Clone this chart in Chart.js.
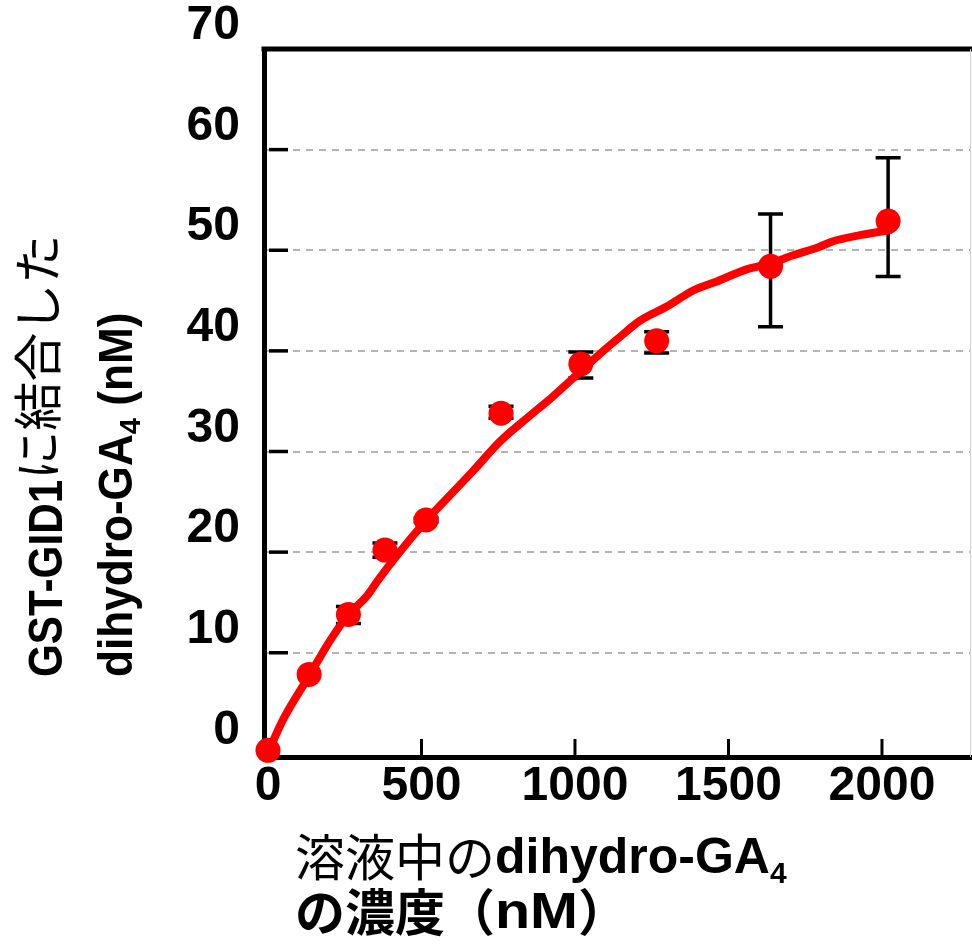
<!DOCTYPE html>
<html>
<head>
<meta charset="utf-8">
<script src="https://cdn.jsdelivr.net/npm/chart.js@4.4.0/dist/chart.umd.min.js"></script>
<style>
  html, body { margin: 0; padding: 0; background: #fff; }
  #chart { display: block; }
</style>
</head>
<body>
<canvas id="chart" width="972" height="944"></canvas>
<script>
// measured points (nM)
const concX = [0, 134, 262, 381, 515, 759, 1019, 1266, 1637, 2020];
const boundY = [0.3, 7.85, 13.8, 20.2, 23.2, 33.8, 38.7, 41.0, 48.4, 52.9];
const errLow = [0.3, 7.85, 12.9, 19.5, 23.0, 33.3, 37.3, 39.8, 42.4, 47.4];
const errHigh = [0.3, 7.85, 14.6, 20.9, 23.4, 34.5, 39.9, 41.9, 53.6, 59.2];

// fitted curve
const fitX = [0, 50, 134, 200, 262, 321, 358, 418, 517, 560, 669, 756, 843, 929, 1016, 1081, 1147, 1212, 1299, 1385, 1462, 1559, 1637, 1711, 1793, 1841, 1928, 2026];
const fitY = [0.1, 3.4, 7.7, 11.1, 13.8, 15.6, 17.2, 19.6, 23.2, 24.6, 28.1, 31.0, 33.3, 35.5, 37.9, 39.7, 41.4, 43.0, 44.4, 46.0, 46.9, 48.1, 48.7, 49.5, 50.3, 50.9, 51.5, 52.0];

const xTicks = [0, 500, 1000, 1500, 2000];
const yTicks = [0, 10, 20, 30, 40, 50, 60, 70];

const LATIN = '"Liberation Sans", Arial, sans-serif';
const CJK = '"Noto Sans CJK JP", sans-serif';
const RED = '#ff0000';

function drawRuns(ctx, runs, x, y) {
  let cx = x;
  runs.forEach(function(r) {
    ctx.font = r.font;
    const sx = r.sx || 1;
    const w = ctx.measureText(r.text).width * sx;
    ctx.save();
    ctx.translate(cx, y + (r.dy || 0));
    ctx.scale(sx, 1);
    ctx.fillText(r.text, 0, 0);
    ctx.restore();
    cx += w;
  });
}

const extras = {
  id: 'extras',
  beforeDatasetsDraw(chart) {
    const ctx = chart.ctx, xs = chart.scales.x, ys = chart.scales.y, a = chart.chartArea;
    ctx.save();
    ctx.strokeStyle = '#000';
    // inward tick marks
    ctx.lineWidth = 3.5;
    yTicks.forEach(function(v) {
      if (v <= 0 || v >= 70) return;
      const py = ys.getPixelForValue(v);
      ctx.beginPath(); ctx.moveTo(a.left + 5, py); ctx.lineTo(a.left + 24, py); ctx.stroke();
    });
    ctx.lineWidth = 3;
    xTicks.forEach(function(v) {
      if (v <= 0) return;
      const px = xs.getPixelForValue(v);
      ctx.beginPath(); ctx.moveTo(px, a.bottom); ctx.lineTo(px, a.bottom - 18); ctx.stroke();
    });
    // error bars
    ctx.lineWidth = 3.5;
    concX.forEach(function(v, i) {
      if (errHigh[i] - errLow[i] < 0.01) return;
      const px = xs.getPixelForValue(v);
      const p1 = ys.getPixelForValue(errLow[i]);
      const p2 = ys.getPixelForValue(errHigh[i]);
      ctx.beginPath();
      ctx.moveTo(px, p1); ctx.lineTo(px, p2);
      ctx.moveTo(px - 12.5, p1); ctx.lineTo(px + 12.5, p1);
      ctx.moveTo(px - 12.5, p2); ctx.lineTo(px + 12.5, p2);
      ctx.stroke();
    });
    // frame: black top, light right edge
    ctx.lineWidth = 5;
    ctx.beginPath(); ctx.moveTo(a.left - 2.5, a.top); ctx.lineTo(chart.width, a.top); ctx.stroke();
    ctx.lineWidth = 1;
    ctx.strokeStyle = '#d0d0d0';
    ctx.beginPath(); ctx.moveTo(a.right - 0.5, a.top); ctx.lineTo(a.right - 0.5, a.bottom); ctx.stroke();
    ctx.restore();
  },
  afterDraw(chart) {
    const ctx = chart.ctx;
    ctx.save();
    ctx.fillStyle = '#000';
    ctx.textBaseline = 'alphabetic';
    ctx.textAlign = 'left';
    // y title (rotated)
    ctx.save();
    ctx.translate(62, 677);
    ctx.rotate(-Math.PI / 2);
    drawRuns(ctx, [
      { text: 'GST-GID1', font: 'bold 48px ' + LATIN, sx: 0.88 },
      { text: 'に結合した', font: '49px ' + CJK, dy: -6 }
    ], 0, 0);
    drawRuns(ctx, [
      { text: 'dihydro-GA', font: 'bold 48px ' + LATIN, sx: 0.92 },
      { text: '4', font: 'bold 29px ' + LATIN, dy: 8 },
      { text: ' (nM)', font: 'bold 48px ' + LATIN, sx: 0.92 }
    ], 0, 70);
    ctx.restore();
    // x title
    drawRuns(ctx, [
      { text: '溶液中の', font: '50px ' + CJK, dy: 3 },
      { text: 'dihydro-GA', font: 'bold 50px ' + LATIN },
      { text: '4', font: 'bold 30px ' + LATIN, dy: 10 }
    ], 295, 873);
    drawRuns(ctx, [
      { text: 'の濃度（', font: 'bold 50px ' + CJK, dy: 3 },
      { text: 'nM', font: 'bold 50px ' + LATIN, sx: 1.15 },
      { text: '）', font: 'bold 50px ' + CJK, dy: 3 }
    ], 295, 928);
    ctx.restore();
  }
};

new Chart(document.getElementById('chart'), {
  type: 'scatter',
  data: {
    datasets: [
      {
        type: 'line',
        data: fitX.map(function(x, i) { return { x: x, y: fitY[i] }; }),
        borderColor: RED,
        borderWidth: 8,
        pointRadius: 0,
        fill: false,
        cubicInterpolationMode: 'monotone',
        borderCapStyle: 'round',
        borderJoinStyle: 'round',
        clip: false,
        order: 2
      },
      {
        data: concX.map(function(x, i) { return { x: x, y: boundY[i] }; }),
        backgroundColor: RED,
        borderWidth: 0,
        pointRadius: 12.5,
        clip: false,
        order: 1
      }
    ]
  },
  options: {
    responsive: false,
    animation: false,
    devicePixelRatio: 1,
    events: [],
    layout: { autoPadding: false, padding: { left: 0, top: 49, right: 1, bottom: 0 } },
    plugins: { legend: { display: false }, tooltip: { enabled: false } },
    scales: {
      x: {
        type: 'linear',
        min: -13,
        max: 2290,
        afterFit: function(s) { s.height = 187; s.paddingRight = 0; s.paddingLeft = 0; },
        afterBuildTicks: function(s) { s.ticks = xTicks.map(function(v) { return { value: v }; }); },
        ticks: {
          autoSkip: false, maxRotation: 0, padding: 6, color: '#000',
          callback: function(v) { return String(v); },
          font: { family: LATIN, size: 48, weight: 'bold', lineHeight: 1 }
        },
        grid: { display: false, drawTicks: false },
        border: { display: true, color: '#000', width: 5 }
      },
      y: {
        min: -0.36,
        max: 70,
        afterFit: function(s) { s.width = 264; },
        afterBuildTicks: function(s) { s.ticks = yTicks.map(function(v) { return { value: v }; }); },
        ticks: {
          padding: 24, labelOffset: -23, color: '#000',
          callback: function(v) { return String(v); },
          font: { family: LATIN, size: 48, weight: 'bold', lineHeight: 1 }
        },
        grid: {
          drawTicks: false,
          lineWidth: 2,
          color: function(c) { return (c.tick && c.tick.value > 0 && c.tick.value < 70) ? '#b4b4b4' : 'rgba(0,0,0,0)'; }
        },
        border: { display: true, color: '#000', width: 5, dash: [7, 6] }
      }
    }
  },
  plugins: [extras]
});
</script>
</body>
</html>
